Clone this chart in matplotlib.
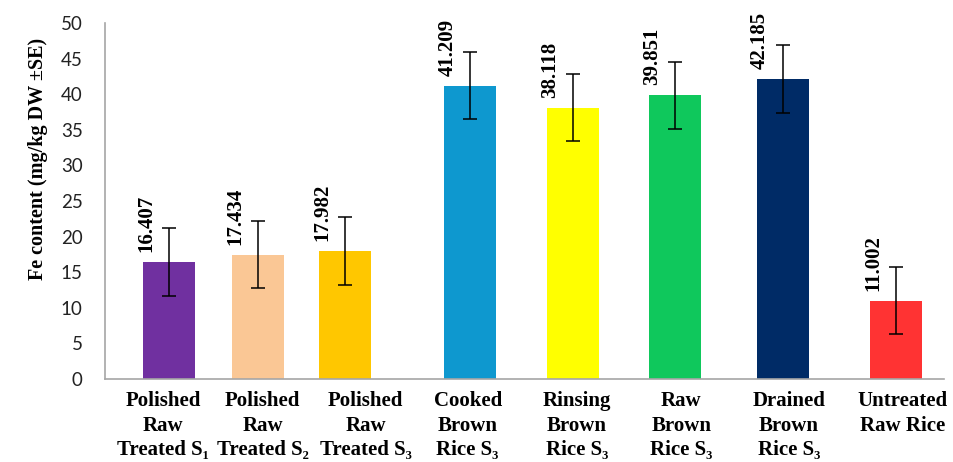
import numpy as np
import matplotlib.pyplot as plt

# Fe content of rice samples (mg/kg DW) with standard errors
labels = [
    "Polished\nRaw\nTreated S\u2081",
    "Polished\nRaw\nTreated S\u2082",
    "Polished\nRaw\nTreated S\u2083",
    "Cooked\nBrown\nRice S\u2083",
    "Rinsing\nBrown\nRice S\u2083",
    "Raw\nBrown\nRice S\u2083",
    "Drained\nBrown\nRice S\u2083",
    "Untreated\nRaw Rice",
]
fe_means = [16.407, 17.434, 17.982, 41.209, 38.118, 39.851, 42.185, 11.002]
fe_se = [4.8, 4.7, 4.8, 4.7, 4.75, 4.7, 4.8, 4.75]
bar_colors = ["#7030A0", "#FAC795", "#FFC700", "#0E98CF",
              "#FFFF00", "#0FC85C", "#002B66", "#FF3333"]

# bar slots (groups are spaced a little unevenly) and where their captions sit
xpos = np.array([0, 1.01, 2.0, 3.42, 4.59, 5.75, 6.97, 8.26])
label_pos = np.array([-0.07, 1.06, 2.23, 3.39, 4.63, 5.82, 7.04, 8.33])

serif = ["Liberation Serif", "DejaVu Serif"]

fig = plt.figure(figsize=(9.54, 4.62), dpi=100)
ax = fig.add_axes([0.110, 0.180, 0.880, 0.770])

ax.bar(xpos, fe_means, width=0.59, color=bar_colors, zorder=2)
ax.errorbar(xpos, fe_means, yerr=fe_se, fmt="none", ecolor="black",
            elinewidth=1.1, capsize=5, capthick=1.1, zorder=3)

for x, v in zip(xpos, fe_means):
    ax.annotate(f"{v:.3f}", xy=(x, v), xytext=(-23, 10),
                textcoords="offset pixels", rotation=90,
                ha="center", va="bottom", fontsize=15,
                fontweight="bold", family=serif)

ax.set_xlim(-0.733, 8.81)
ax.set_ylim(0, 50)
ax.set_yticks(np.arange(0, 51, 5))
ax.set_xticks(label_pos)
ax.set_xticklabels(labels, family=serif, fontweight="bold",
                   fontsize=15, linespacing=1.28)
for t in ax.get_yticklabels():
    t.set_family(["Lato", "DejaVu Sans"])
    t.set_fontsize(13.5)
    t.set_color("#222222")

ax.tick_params(axis="y", length=0, pad=16)
ax.tick_params(axis="x", length=0, pad=9)

for side in ["top", "right"]:
    ax.spines[side].set_visible(False)
for side in ["left", "bottom"]:
    ax.spines[side].set_color("#A6A6A6")
    ax.spines[side].set_linewidth(1.2)

ax.set_ylabel("Fe content (mg/kg DW \u00b1SE)", family=serif,
              fontweight="bold", fontsize=14.5)
ax.yaxis.set_label_coords(-0.068, 0.618)

fig.savefig("out.png", dpi=100)
